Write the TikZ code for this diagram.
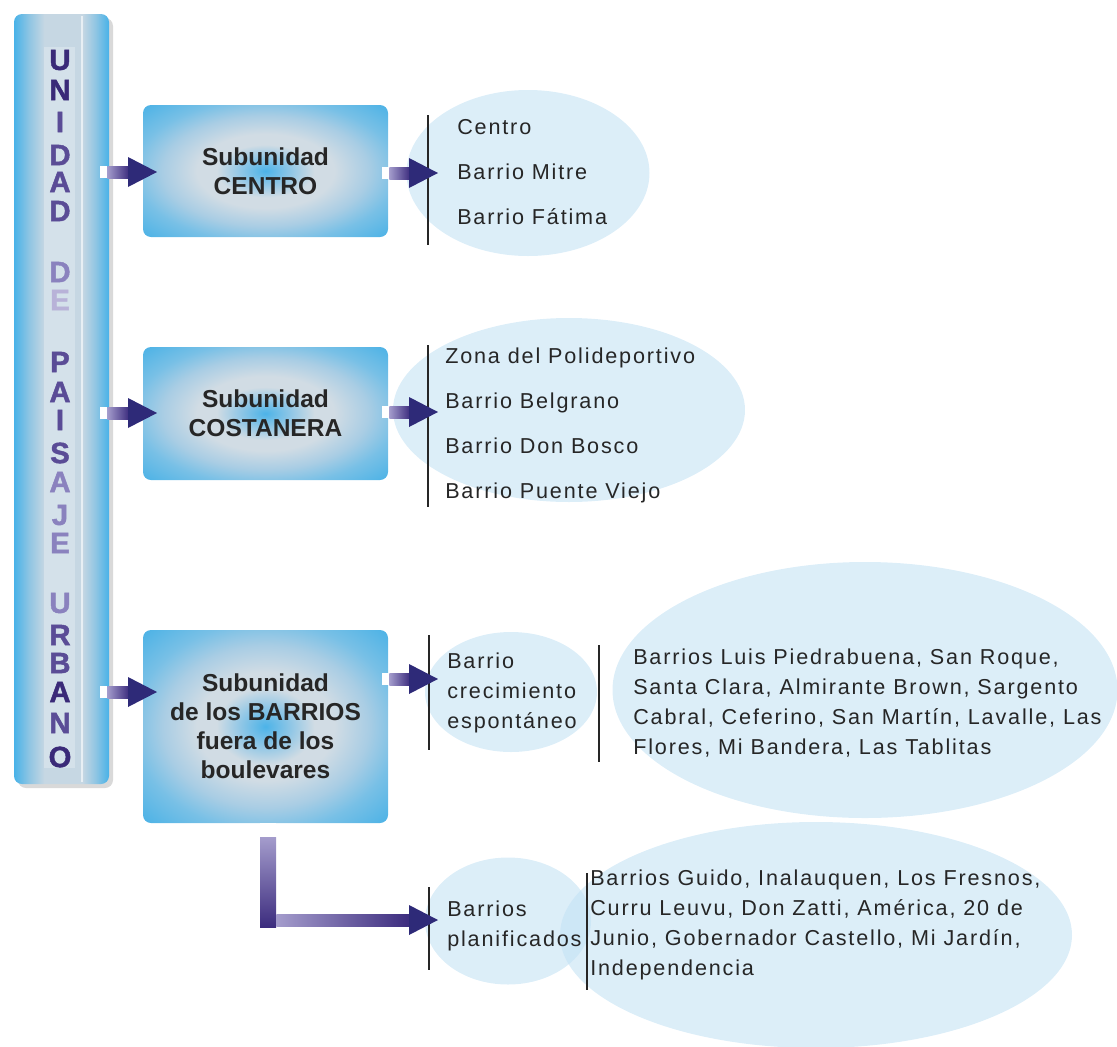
\documentclass[tikz,border=0pt]{standalone}
\usepackage{fontspec}
\setmainfont{Liberation Sans}
\newfontfamily\listfont{Liberation Sans}[LetterSpace=8.5]
\newfontfamily\heavyfont{Liberation Sans Bold}[FakeBold=1.5]
\usetikzlibrary{calc}
\usetikzlibrary{shapes.geometric}
\usetikzlibrary{shadows}
\definecolor{barblue}{HTML}{48B2E8}
\definecolor{barmid}{HTML}{8FC5E3}
\definecolor{barpale}{HTML}{C6D7E3}
\definecolor{strippale}{HTML}{D4E1EA}
\definecolor{boxblue}{HTML}{48B1E6}
\definecolor{glowedge}{HTML}{78C0E6}
\definecolor{glowmid}{HTML}{A9CDE4}
\definecolor{glowlight}{HTML}{D1DCE4}
\definecolor{glowspot}{HTML}{4CB3E8}
\definecolor{glowspot2}{HTML}{8EC6E6}
\definecolor{ellblue}{HTML}{C4E2F4}
\definecolor{txtgray}{HTML}{262626}
\definecolor{arrlight}{HTML}{A49CCC}
\definecolor{arrdark}{HTML}{3C2C7E}
\definecolor{arrhead}{HTML}{2E2A78}
\definecolor{ldark}{HTML}{3A2A78}
\definecolor{lmid}{HTML}{5A4C96}
\definecolor{llight}{HTML}{8A82BE}
\definecolor{lpale}{HTML}{B8B2D8}
\pgfdeclarehorizontalshading{barshade}{100bp}{color(0bp)=(barblue); color(25bp)=(barblue);
  color(33bp)=(barmid); color(41bp)=(barpale); color(61bp)=(barpale); color(68bp)=(barmid);
  color(75bp)=(barblue); color(100bp)=(barblue)}
\pgfdeclareradialshading{boxglow}{\pgfpoint{0bp}{0bp}}{color(0bp)=(glowspot); color(5bp)=(glowspot2);
  color(10bp)=(glowlight); color(14bp)=(glowlight); color(21bp)=(glowmid); color(27bp)=(glowedge);
  color(36bp)=(boxblue); color(50bp)=(boxblue)}
\tikzset{unibar/.style = {rounded corners=6pt, shading=barshade, inner sep=0,
                          minimum width=71.25pt, minimum height=577.5pt,
                          drop shadow={shadow xshift=3pt, shadow yshift=-3pt, opacity=0.3}}}
\tikzset{letra/.style = {inner sep=0, font=\heavyfont\fontsize{22}{22}\selectfont}}
\tikzset{subbox/.style = {rounded corners=6pt, shading=boxglow, align=center, inner sep=0,
                          minimum width=183.75pt, text=txtgray,
                          font=\fontsize{18.4}{21.75}\selectfont\bfseries}}
\tikzset{zona/.style = {ellipse, fill=ellblue, fill opacity=0.6, inner sep=0}}
\tikzset{sepline/.style = {draw=txtgray, line width=1.1pt}}
\tikzset{lista/.style = {anchor=base west, align=left, inner sep=0, text=txtgray,
                         font=\listfont\fontsize{16.2}{33.75}\selectfont}}
\tikzset{parrafo/.style = {lista, font=\listfont\fontsize{16.2}{22.3}\selectfont}}
\newcommand{\fatarrow}[3][white]{%
  \path[fill=#1] let \p1=(#2) in (\x1,\y1-4.5pt) rectangle (\x1+5.25pt,\y1+4.5pt);
  \shade[left color=arrlight, right color=arrdark] let \p1=(#2), \p2=(#3) in
    (\x1+5.25pt,\y1-4.5pt) rectangle (\x2-21pt,\y1+4.5pt);
  \fill[arrhead] let \p1=(#2), \p2=(#3) in
    (\x2-21.75pt,\y1-11.25pt) -- (\x2,\y1) -- (\x2-21.75pt,\y1+11.25pt) -- cycle;}

\begin{document}
\begin{tikzpicture}[x=0.75pt, y=-0.75pt]
  \useasboundingbox (0,0) rectangle (1117,1046);

  % unidad de paisaje urbano
  \node (bar) [unibar] at (61.5,399) {};
  \fill[strippale] (44,47) rectangle (75,768);
  \draw[white!60!barpale, line width=0.8pt] (82,16) -- (82,782);
  \foreach \ch/\yy/\cc [count=\i] in {U/60/ldark, N/90/ldark, I/122/lmid, D/155/lmid, A/182/lmid,
      D/211/lmid, D/272/llight, E/300/lpale, P/362/lmid, A/392/lmid, I/420/lmid, S/453/lmid,
      A/482/llight, J/515/llight, E/543/llight, U/603/llight, R/635/lmid, B/663/lmid,
      A/692/ldark, N/723/lmid, O/757/ldark}
    \node (ch\i) [letra, text=\cc] at (60,\yy) {\ch};

  % subunidades
  \node (b1) [subbox, minimum height=99pt] at (265.5,171) {Subunidad\\CENTRO};
  \node (b2) [subbox, minimum height=99.75pt] at (265.5,413.5) {Subunidad\\COSTANERA};
  \node (b3) [subbox, minimum height=144.75pt] at (265.5,726.5)
    {Subunidad\\de los BARRIOS\\fuera de los\\boulevares};

  % barrios
  \node (e1) [zona, minimum width=182.25pt, minimum height=124.5pt] at (528,173) {};
  \node (e2) [zona, minimum width=264pt, minimum height=138pt] at (569,410) {};
  \node (e3) [zona, minimum width=129pt, minimum height=90pt] at (511,692) {};
  \node (e4) [zona, minimum width=378.75pt, minimum height=192pt] at (865,690) {};
  \node (e5) [zona, minimum width=124.5pt, minimum height=95.25pt] at (508,921) {};
  \node (e6) [zona, minimum width=384pt, minimum height=169.5pt] at (816,935) {};

  \draw[sepline] (428,115) -- (428,245);
  \draw[sepline] (428,345) -- (428,507);
  \draw[sepline] (429,635) -- (429,750);
  \draw[sepline] (599,645) -- (599,762);
  \draw[sepline] (429,887) -- (429,970);
  \draw[sepline] (587,873) -- (587,990);

  % base = last line
  \node (l1) [lista] at (457,224) {Centro\\Barrio Mitre\\Barrio Fátima};
  \node (l2) [lista] at (445,498)
    {Zona del Polideportivo\\Barrio Belgrano\\Barrio Don Bosco\\Barrio Puente Viejo};
  \node (l3) [parrafo] at (447,728) {Barrio\\crecimiento\\espontáneo};
  \node (l4) [parrafo] at (633,754) {Barrios Luis Piedrabuena, San Roque,\\Santa Clara,
    Almirante Brown, Sargento\\Cabral, Ceferino, San Martín, Lavalle, Las\\Flores, Mi Bandera,
    Las Tablitas};
  \node (l5) [parrafo] at (447,946) {Barrios\\planificados};
  \node (l6) [parrafo] at (590,975) {Barrios Guido, Inalauquen, Los Fresnos,\\Curru Leuvu,
    Don Zatti, América, 20 de\\Junio, Gobernador Castello, Mi Jardín,\\Independencia};

  % flechas
  \coordinate (in1) at (157,172);
  \coordinate (in2) at (157,413);
  \coordinate (in3) at (157,692);
  \coordinate (out1) at (438,173);
  \coordinate (out2) at (438,412);
  \coordinate (out3) at (438,679);
  \coordinate (out4) at (438,920);
  \coordinate (bend) at (268,920);
  \fatarrow{[xshift=-6.75pt]bar.east |- in1}{in1}
  \fatarrow{[xshift=-6.75pt]bar.east |- in2}{in2}
  \fatarrow{[xshift=-6.75pt]bar.east |- in3}{in3}
  \fatarrow{[xshift=-4.5pt]b1.east |- out1}{out1}
  \fatarrow{[xshift=-4.5pt]b2.east |- out2}{out2}
  \fatarrow{[xshift=-4.5pt]b3.east |- out3}{out3}
  \fill[white] let \p1=(b3.south -| bend) in (\x1-6pt,\y1) rectangle (\x1+6pt,\y1-10.5pt);
  \shade[top color=arrlight, bottom color=arrdark] let \p1=(b3.south -| bend), \p2=(bend) in
    (\x1-6pt,\y1-10.5pt) rectangle (\x2+6pt,\y2-5.25pt);
  \fatarrow[none]{[xshift=1pt]bend}{out4}
\end{tikzpicture}
\end{document}
